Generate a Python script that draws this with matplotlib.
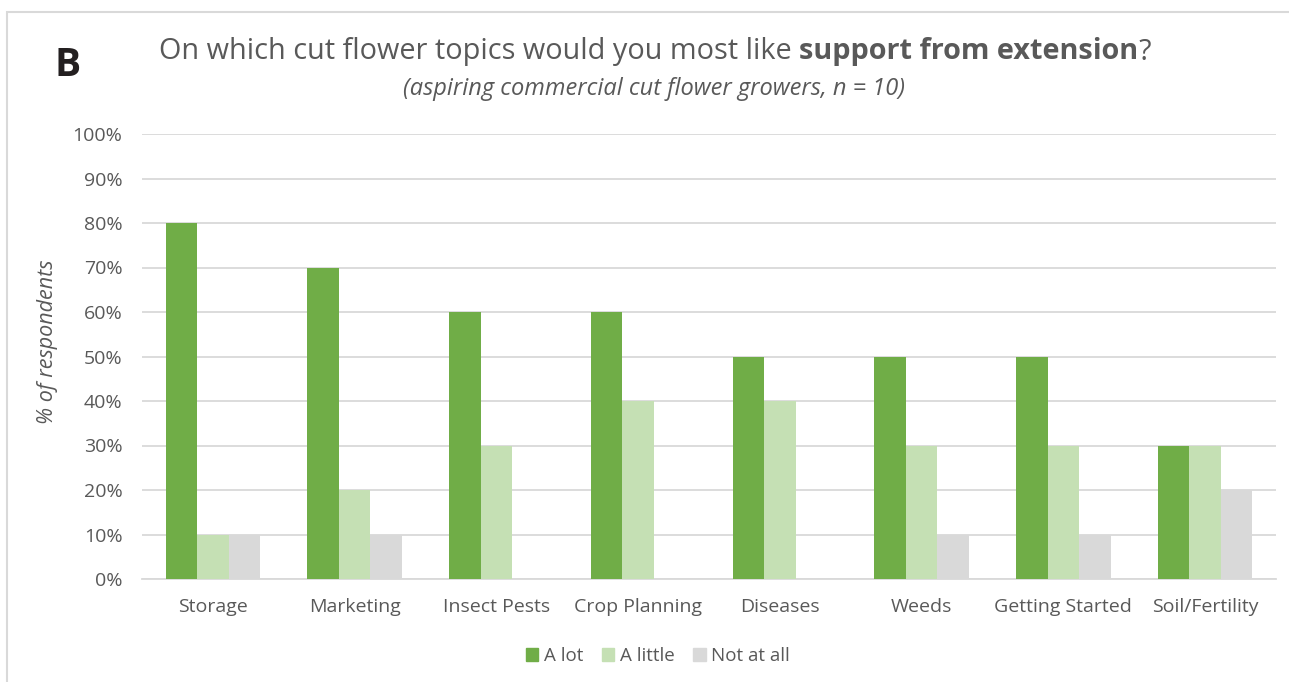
import matplotlib
matplotlib.use("Agg")
import matplotlib.pyplot as plt
from matplotlib.patches import Rectangle, Patch
import numpy as np

categories = ["Storage", "Marketing", "Insect Pests", "Crop Planning",
              "Diseases", "Weeds", "Getting Started", "Soil/Fertility"]
a_lot = [80, 70, 60, 60, 50, 50, 50, 30]
a_little = [10, 20, 30, 40, 40, 30, 30, 30]
not_at_all = [10, 10, 0, 0, 0, 10, 10, 20]
series_names = ["A lot", "A little", "Not at all"]
y_ticks = list(range(0, 101, 10))

colors = ["#70AD47", "#C5E0B4", "#D9D9D9"]
text_color = "#595959"
grid_color = "#D9D9D9"

plt.rcParams["font.family"] = ["Open Sans", "DejaVu Sans"]

W, H = 1289, 682
fig = plt.figure(figsize=(W / 100, H / 100), dpi=100)

# outer chart frame (runs off the right and bottom edges)
fig.patches.append(Rectangle((7 / W, -0.1), 1.5, 1 - 12 / H + 0.1,
                             transform=fig.transFigure, fill=False,
                             edgecolor=grid_color, linewidth=1.5))

ax = fig.add_axes([142 / W, 1 - 579 / H, (1276 - 142) / W, (579 - 134) / H])

x = np.arange(len(categories))
bw = 0.222
for i, (vals, name) in enumerate(zip([a_lot, a_little, not_at_all], series_names)):
    ax.bar(x + (i - 1) * bw, vals, width=bw, color=colors[i], label=name, zorder=3)

ax.set_xlim(-0.5, len(categories) - 0.5)
ax.set_ylim(0, 100)
ax.set_yticks(y_ticks)
ax.set_yticklabels([f"{t}%" for t in y_ticks])
ax.set_xticks(x)
ax.set_xticklabels(categories)
ax.tick_params(axis="both", length=0, labelsize=14, colors=text_color)
ax.tick_params(axis="x", pad=14)
ax.tick_params(axis="y", pad=14)
ax.yaxis.grid(True, color=grid_color, linewidth=1.3, zorder=0)
for s in ["top", "right", "left"]:
    ax.spines[s].set_visible(False)
ax.spines["bottom"].set_color(grid_color)
ax.spines["bottom"].set_linewidth(1.3)
ax.set_axisbelow(True)

fig.text(48 / W, 1 - 342 / H, "% of respondents", rotation=90, style="italic",
         fontsize=15.5, color=text_color, ha="center", va="center")

# panel letter
fig.text(68 / W, 1 - 66 / H, "B", fontsize=28, fontweight="bold",
         color="#231F20", ha="center", va="center")

# title with a bold segment
parts = [("On which cut flower topics would you most like ", "normal"),
         ("support from extension", "bold"),
         ("?", "normal")]
fig.canvas.draw()
renderer = fig.canvas.get_renderer()
texts = []
for s, w in parts:
    t = fig.text(0, 1 - 52 / H, s, fontsize=20.8, fontweight=w, color=text_color,
                 ha="left", va="center")
    texts.append(t)
widths = [t.get_window_extent(renderer).width for t in texts]
total = sum(widths)
xpos = 655 - total / 2
for t, w in zip(texts, widths):
    t.set_x(xpos / W)
    xpos += w

fig.text(654 / W, 1 - 89 / H, "(aspiring commercial cut flower growers, n = 10)",
         fontsize=17, style="italic", color=text_color, ha="center", va="center")

leg = fig.legend(handles=[Patch(color=c, label=n) for c, n in zip(colors, series_names)],
                 loc="center", bbox_to_anchor=(658 / W, 1 - 656 / H), ncol=3,
                 frameon=False, fontsize=13.5, handlelength=0.65, handleheight=0.65,
                 handletextpad=0.3, columnspacing=1.0)
for t in leg.get_texts():
    t.set_color(text_color)

fig.savefig("out.png", dpi=100)
